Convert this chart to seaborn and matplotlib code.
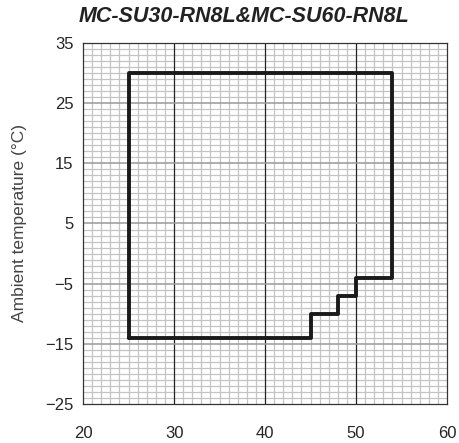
import numpy as np
import pandas as pd
import matplotlib
matplotlib.use("Agg")
import matplotlib.pyplot as plt
import seaborn as sns
from matplotlib.ticker import MultipleLocator

# ---------------------------------------------------------------------------
# Données : contour de la plage de fonctionnement
# ---------------------------------------------------------------------------
water_temp = [25, 25, 54, 54, 50, 50, 48, 48, 45, 45, 25]
ambient_temp = [-14, 30, 30, -4, -4, -7, -7, -10, -10, -14, -14]

x_ticks = [20, 30, 40, 50, 60]
y_ticks = [-25, -15, -5, 5, 15, 25, 35]

title = "MC-SU30-RN8L&MC-SU60-RN8L"
y_label = "Ambient temperature (°C)"

sns.set_style("white")
plt.rcParams["font.family"] = ["Liberation Sans", "DejaVu Sans"]

df = pd.DataFrame({"x": water_temp, "y": ambient_temp})

fig = plt.figure(figsize=(4.59, 4.43), dpi=100)
ax = fig.add_axes([0.181, 0.088, 0.793, 0.815])

# grille fine
ax.xaxis.set_minor_locator(MultipleLocator(1))
ax.yaxis.set_minor_locator(MultipleLocator(1))
ax.grid(which="minor", color="#c4c4c4", linewidth=0.9)
ax.set_axisbelow(True)

# lignes majeures
for xv in x_ticks[1:-1]:
    ax.axvline(xv, color="#222222", linewidth=0.9, zorder=1)
for yv in y_ticks[1:-1]:
    ax.axhline(yv, color="#9a9a9a", linewidth=1.1, zorder=1)

sns.lineplot(data=df, x="x", y="y", sort=False, estimator=None,
             color="#1a1a1a", linewidth=2.8, ax=ax, zorder=3)

ax.set_xlim(20, 60)
ax.set_ylim(-25, 35)
ax.set_xticks(x_ticks)
ax.set_yticks(y_ticks)
narrow = ["Liberation Sans Narrow", "Liberation Sans"]
ax.set_xticklabels([str(v) for v in x_ticks], fontsize=12, family=narrow)
ax.set_yticklabels([str(v).replace("-", "\u2212") for v in y_ticks],
                   fontsize=12, family=narrow)
ax.tick_params(which="both", length=0)
ax.tick_params(axis="x", pad=16)
ax.tick_params(axis="y", pad=7)
ax.set_xlabel("")
ax.set_ylabel(y_label, fontsize=12.5, color="#444444", labelpad=13)

for spine in ax.spines.values():
    spine.set_color("#333333")
    spine.set_linewidth(0.9)

fig.text(244 / 459, 1 - 17 / 443, title, fontsize=15.5, fontweight="bold",
         fontstyle="italic", color="#222222", ha="center", va="center")

plt.savefig("out.png", dpi=100)
plt.close()
